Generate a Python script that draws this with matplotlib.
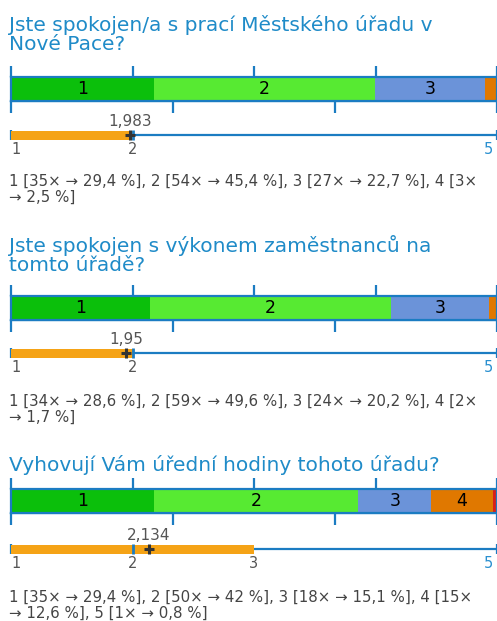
import textwrap
import matplotlib
matplotlib.use("Agg")
import matplotlib.pyplot as plt

# data
titles = [
    "Jste spokojen/a s prací Městského úřadu v\nNové Pace?",
    "Jste spokojen s výkonem zaměstnanců na\ntomto úřadě?",
    "Vyhovují Vám úřední hodiny tohoto úřadu?",
]
counts = [[35, 54, 27, 3], [34, 59, 24, 2], [35, 50, 18, 15, 1]]
percents = [[29.4, 45.4, 22.7, 2.5], [28.6, 49.6, 20.2, 1.7], [29.4, 42, 15.1, 12.6, 0.8]]
means = [1.983, 1.95, 2.134]
medians = [2, 2, 2]
q_low = [1, 1, 1]
q_high = [2, 2, 3]
scale_min, scale_max = 1, 5

seg_colors = ["#0bbf0b", "#57ea32", "#6b93d9", "#e07800", "#d8201a"]
BLUE = "#1b7cc2"
TITLE_BLUE = "#1f8bc8"
GRAY = "#555555"

W, H = 497, 621
fig = plt.figure(figsize=(W / 100, H / 100), dpi=100)
plt.rcParams["font.family"] = "DejaVu Sans"

# layout per section (pixels from top): title top, bar top, line y, stats top
layout = [(15, 77, 135, 174), (235, 296, 353, 394), (455, 489, 549, 590)]
x0, x1 = 11, 497


def fx(px):
    return px / W


def fy(py):
    return 1 - py / H


for i, title in enumerate(titles):
    t_top, bar_top, line_y, s_top = layout[i]
    fig.text(fx(9), fy(t_top), title, color=TITLE_BLUE, fontsize=14.5,
             va="top", ha="left", linespacing=1.0)

    # stacked bar
    ax = fig.add_axes([fx(x0), fy(bar_top + 24), fx(x1 - x0), 24 / H])
    left = 0
    for j, p in enumerate(percents[i]):
        ax.barh(0, p, left=left, height=1, color=seg_colors[j], edgecolor="none")
        if p > 5:
            ax.text(left + p / 2, 0, str(j + 1), ha="center", va="center",
                    fontsize=12.5, color="black")
        left += p
    ax.set_xlim(0, 100)
    ax.set_ylim(-0.5, 0.5)
    ax.set_yticks([])
    for sp in ax.spines.values():
        sp.set_color(BLUE)
        sp.set_linewidth(1.6)
    ax.xaxis.set_ticks_position("top")
    ax.set_xticks([0, 25, 50, 75, 100])
    ax.tick_params(axis="x", direction="out", length=8, width=1.6, color=BLUE,
                   labeltop=False, labelbottom=False)
    sec = ax.secondary_xaxis("bottom")
    sec.set_xticks([0, 100 / 3, 200 / 3, 100])
    sec.tick_params(direction="out", length=8.5, width=1.6, color=BLUE, labelbottom=False)
    sec.spines["bottom"].set_color(BLUE)
    sec.spines["bottom"].set_linewidth(1.6)

    # mean / quartile line
    lx = fig.add_axes([fx(x0), fy(line_y + 10), fx(x1 - x0), 20 / H])
    lx.set_xlim(scale_min, scale_max)
    lx.set_ylim(-1, 1)
    lx.axis("off")
    lx.hlines(0, scale_min, scale_max, color=BLUE, lw=1.6, zorder=1)
    lx.vlines([scale_min, scale_max], -0.5, 0.5, color=BLUE, lw=1.6, zorder=1, clip_on=False)
    lx.barh(0, q_high[i] - q_low[i], left=q_low[i], height=0.9, color="#f5a316", zorder=2)
    lx.vlines(medians[i], -0.5, 0.5, color=BLUE, lw=2, zorder=3)
    lx.plot(means[i], 0, marker="+", ms=7, mew=2.2, color="#333333", zorder=4)
    lx.text(means[i], 0.6, f"{means[i]:g}".replace(".", ","), ha="center", va="bottom",
            fontsize=11, color=GRAY)
    tick_vals = sorted({scale_min, q_low[i], medians[i], q_high[i], scale_max})
    for v in tick_vals:
        if v == scale_min:
            lx.text(v, -0.7, str(v), ha="left", va="top", fontsize=10.5, color=GRAY)
        elif v == scale_max:
            lx.text(v - 0.03, -0.7, str(v), ha="right", va="top", fontsize=10.5, color="#2a90d0")
        else:
            lx.text(v, -0.7, str(v), ha="center", va="top", fontsize=10.5, color=GRAY)

    # frequency text
    parts = []
    for j, (n, p) in enumerate(zip(counts[i], percents[i])):
        parts.append(f"{j + 1} [{n}× → {p:g} %]".replace(".", ","))
    stats = textwrap.fill(", ".join(parts), 59)
    fig.text(fx(9), fy(s_top), stats, color="#444444", fontsize=10.8,
             va="top", ha="left", linespacing=1.08)

fig.savefig("out.png", dpi=100)
